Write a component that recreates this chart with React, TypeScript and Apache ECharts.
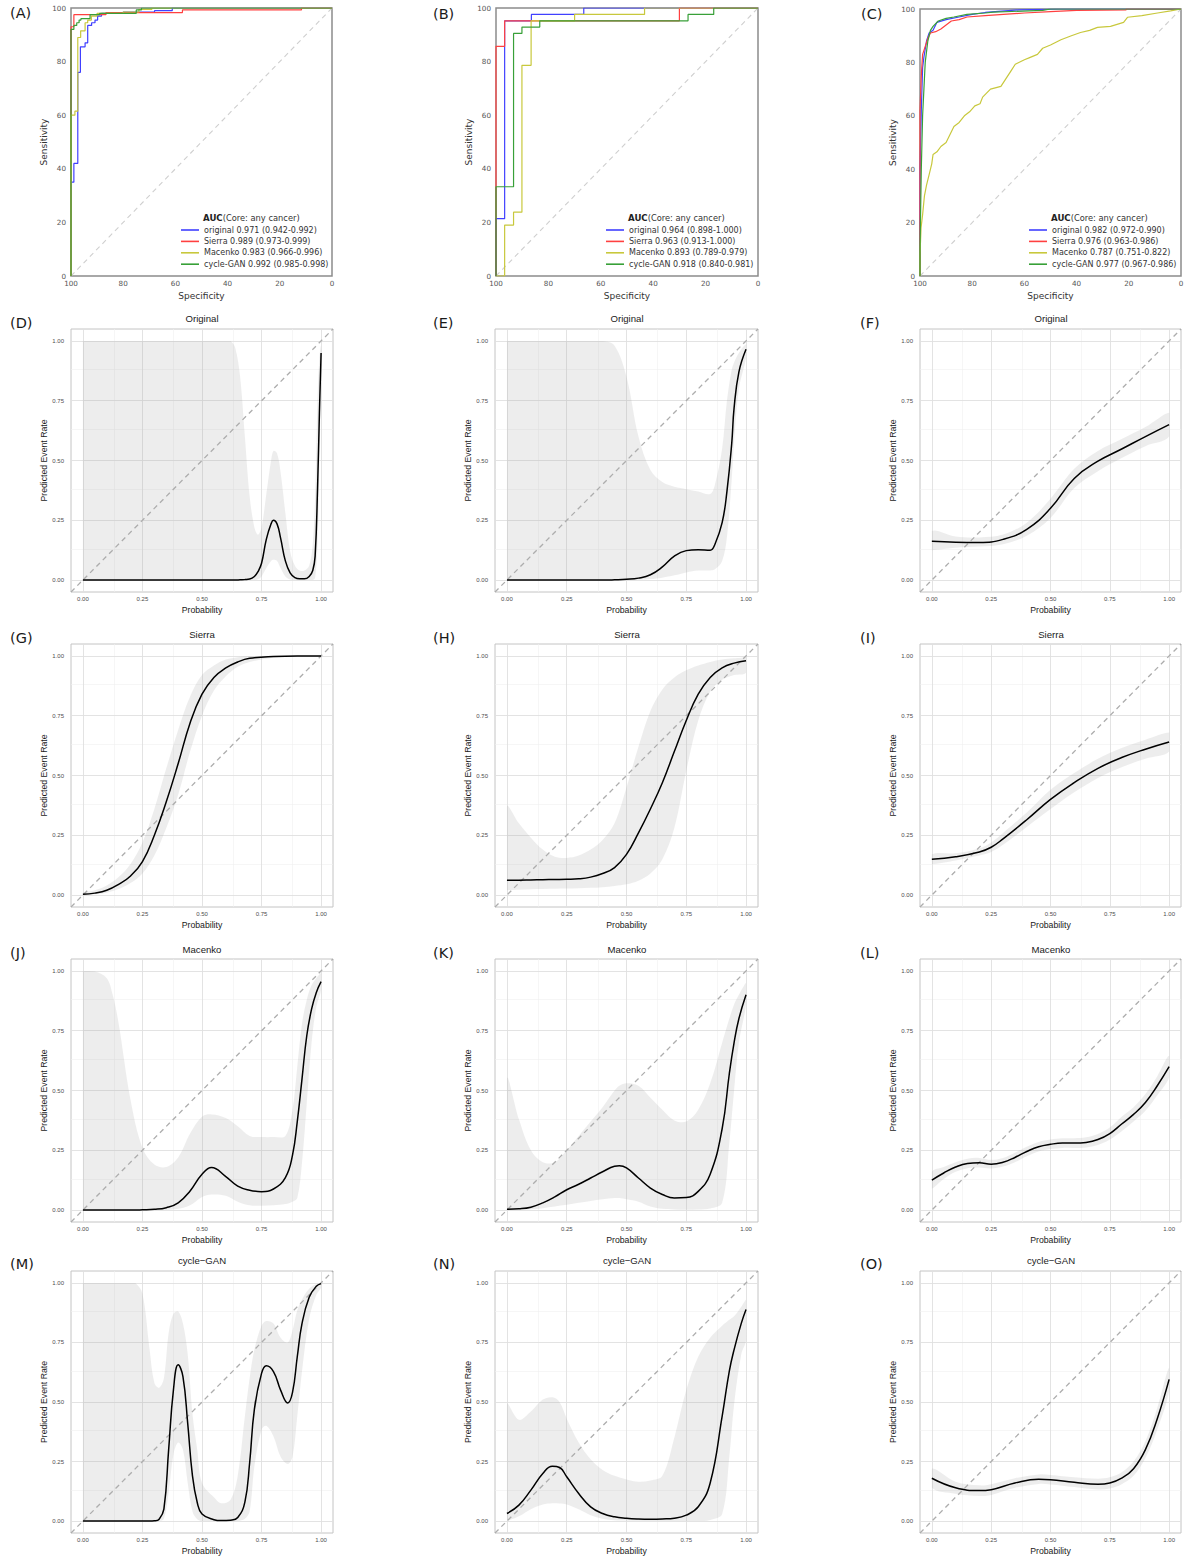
import React, { useEffect, useRef } from 'react';
import * as echarts from 'echarts';

// ---------------- ROC data (specificity %, sensitivity %) ----------------
const METHODS = ['original', 'Sierra', 'Macenko', 'cycle-GAN'];
const ROC_COLORS = ['#4040ff', '#ff4040', '#c8c83c', '#38a038'];

const aucA = ['0.971 (0.942-0.992)', '0.989 (0.973-0.999)', '0.983 (0.966-0.996)', '0.992 (0.985-0.998)'];
const aucB = ['0.964 (0.898-1.000)', '0.963 (0.913-1.000)', '0.893 (0.789-0.979)', '0.918 (0.840-0.981)'];
const aucC = ['0.982 (0.972-0.990)', '0.976 (0.963-0.986)', '0.787 (0.751-0.822)', '0.977 (0.967-0.986)'];

const rocAOriginal = [[100, 0], [100, 35], [98.9, 35], [98.9, 42], [97.4, 42], [97.4, 76], [96.4, 76], [96.4, 85.5], [94.6, 85.5], [94.6, 87], [93.6, 87], [93.6, 93.5], [92.1, 93.5], [92.1, 94.5], [90.8, 94.5], [90.8, 95.5], [89.8, 95.5], [89.8, 97], [88.3, 97], [88.3, 98], [80, 98], [80, 98.5], [68, 98.5], [68, 99], [61.2, 99], [61.2, 100], [0, 100]];
const rocASierra = [[100, 0], [100, 93], [98.9, 93], [98.9, 97.5], [86.6, 97.5], [86.6, 98.3], [57.3, 98.3], [57.3, 99.3], [11.7, 99.3], [11.7, 100], [0, 100]];
const rocAMacenko = [[100, 0], [100, 60], [98.5, 60], [98.5, 61.5], [97.4, 61.5], [97.4, 89], [96.3, 89], [96.3, 91.5], [94.6, 91.5], [94.6, 94.5], [93.6, 94.5], [93.6, 95.5], [92.2, 95.5], [92.2, 97], [90, 97], [90, 98], [80, 98], [80, 98.5], [74, 98.5], [74, 99.5], [69, 99.5], [69, 100], [0, 100]];
const rocACycleGAN = [[100, 0], [100, 92], [98.9, 92], [98.9, 93.5], [97.8, 93.5], [97.8, 94.5], [96.9, 94.5], [96.9, 95.5], [96.2, 95.5], [96.2, 96], [92.7, 96], [92.7, 97.5], [89, 97.5], [89, 98], [75, 98], [75, 99.3], [73, 99.3], [73, 100], [0, 100]];

const rocBOriginal = [[100, 0], [100, 21.4], [96.7, 21.4], [96.7, 95.2], [86.5, 95.2], [86.5, 97.6], [66.5, 97.6], [66.5, 100], [0, 100]];
const rocBSierra = [[100, 0], [100, 85.7], [96.7, 85.7], [96.7, 95.2], [30, 95.2], [30, 100], [0, 100]];
const rocBMacenko = [[100, 0], [96.7, 0], [96.7, 19], [93.3, 19], [93.3, 23.8], [90.1, 23.8], [90.1, 78.6], [86.6, 78.6], [86.6, 95.2], [70, 95.2], [70, 97.6], [43.3, 97.6], [43.3, 100], [0, 100]];
const rocBCycleGAN = [[100, 0], [100, 33.3], [93.3, 33.3], [93.3, 90.5], [90.1, 90.5], [90.1, 92.9], [83.3, 92.9], [83.3, 95.2], [26.7, 95.2], [26.7, 97.6], [16.9, 97.6], [16.9, 100], [0, 100]];

const rocCOriginal = [[100, 0], [100, 40], [99.5, 62], [99, 78], [98.5, 82], [97.5, 88], [96.5, 91], [95, 92], [93.5, 95], [90, 96], [85, 97], [80, 98], [75, 98.7], [62, 99.7], [47, 100], [0, 100]];
const rocCSierra = [[100, 0], [100, 62], [99.5, 75], [99, 83], [98, 86], [97, 89], [96, 91], [94, 91.5], [92, 92.5], [90, 94], [88, 95.5], [85, 96], [82, 97], [75, 97.5], [60, 98.5], [50, 99], [40, 99.5], [21, 99.7], [21, 100], [0, 100]];
const rocCMacenko = [[100, 0], [100, 8], [99.6, 18], [99, 23], [98.3, 30], [97.5, 34], [96.5, 38], [95.5, 42], [95, 45.5], [93.5, 46.5], [92, 48.5], [90, 50], [88.5, 53], [87, 56], [85, 57.5], [83, 60], [81, 61.5], [79, 63.7], [77, 64.5], [76, 67], [73, 70], [69, 71], [67, 74], [65, 77], [63.5, 79.3], [60, 81], [58, 81.8], [55, 83], [53, 85.3], [50, 86.5], [46, 88.5], [42, 90], [38.5, 91.2], [35, 92], [32, 93.1], [27, 93.5], [22, 95], [20.5, 96.9], [15, 97.5], [9, 98.5], [4, 99.3], [0, 100]];
const rocCCycleGAN = [[100, 0], [100, 10], [99.5, 40], [99, 60], [98.5, 70], [98, 80], [97, 88], [96, 92], [95, 93.5], [93, 95.5], [90, 96.5], [87, 97], [82, 98], [75, 98.5], [72, 98.8], [53, 99.5], [50, 100], [0, 100]];

// ---------------- Calibration data (probability, fit, lower CI, upper CI) ----------------
const dProb = [0, 0.2, 0.4, 0.6, 0.62, 0.64, 0.66, 0.68, 0.7, 0.72, 0.735, 0.75, 0.77, 0.79, 0.8, 0.815, 0.83, 0.85, 0.87, 0.89, 0.91, 0.93, 0.95, 0.965, 0.975, 0.985, 0.993, 1.0];
const dFit = [0, 0, 0, 0, 0, 0, 0.001, 0.002, 0.004, 0.015, 0.035, 0.07, 0.17, 0.235, 0.25, 0.235, 0.175, 0.08, 0.03, 0.01, 0.005, 0.005, 0.015, 0.04, 0.1, 0.38, 0.7, 0.95];
const dLo = [0, 0, 0, 0, 0, 0, 0, 0, 0, 0, 0.003, 0.015, 0.05, 0.08, 0.085, 0.08, 0.05, 0.015, 0.002, 0, 0, 0, 0, 0, 0.01, 0.15, 0.5, 0.88];
const dHi = [1, 1, 1, 1, 1, 0.97, 0.85, 0.6, 0.35, 0.22, 0.19, 0.22, 0.36, 0.5, 0.54, 0.53, 0.45, 0.28, 0.12, 0.06, 0.04, 0.04, 0.06, 0.15, 0.35, 0.75, 0.93, 0.98];

const eProb = [0, 0.2, 0.4, 0.45, 0.5, 0.55, 0.6, 0.65, 0.7, 0.75, 0.8, 0.85, 0.87, 0.9, 0.92, 0.94, 0.95, 0.97, 1.0];
const eFit = [0, 0, 0, 0.001, 0.003, 0.008, 0.022, 0.055, 0.1, 0.123, 0.127, 0.125, 0.15, 0.24, 0.37, 0.57, 0.72, 0.87, 0.965];
const eLo = [0, 0, 0, 0, 0, 0.001, 0.004, 0.01, 0.02, 0.032, 0.04, 0.04, 0.045, 0.08, 0.18, 0.42, 0.58, 0.8, 0.93];
const eHi = [1, 1, 1, 0.98, 0.85, 0.6, 0.46, 0.41, 0.39, 0.38, 0.37, 0.36, 0.4, 0.55, 0.75, 0.88, 0.91, 0.95, 0.985];

const fProb = [0, 0.1, 0.2, 0.3, 0.4, 0.5, 0.6, 0.7, 0.8, 0.9, 1.0];
const fFit = [0.162, 0.158, 0.157, 0.17, 0.212, 0.3, 0.425, 0.497, 0.548, 0.6, 0.65];
const fLo = [0.125, 0.135, 0.14, 0.15, 0.185, 0.26, 0.385, 0.455, 0.51, 0.56, 0.6];
const fHi = [0.205, 0.182, 0.178, 0.19, 0.24, 0.34, 0.465, 0.54, 0.59, 0.64, 0.7];

const gProb = [0, 0.05, 0.1, 0.15, 0.2, 0.25, 0.3, 0.35, 0.4, 0.45, 0.5, 0.55, 0.6, 0.65, 0.7, 0.8, 0.9, 1.0];
const gFit = [0.003, 0.008, 0.02, 0.045, 0.08, 0.14, 0.25, 0.39, 0.55, 0.72, 0.84, 0.91, 0.95, 0.975, 0.99, 0.998, 1.0, 1.0];
const gLo = [0, 0.003, 0.01, 0.025, 0.05, 0.09, 0.165, 0.28, 0.42, 0.6, 0.75, 0.855, 0.915, 0.955, 0.975, 0.993, 0.998, 0.999];
const gHi = [0.01, 0.02, 0.04, 0.075, 0.13, 0.22, 0.36, 0.53, 0.69, 0.83, 0.92, 0.96, 0.985, 0.995, 1.0, 1.0, 1.0, 1.0];

const hProb = [0, 0.05, 0.1, 0.15, 0.2, 0.25, 0.3, 0.35, 0.4, 0.45, 0.5, 0.55, 0.6, 0.65, 0.7, 0.75, 0.8, 0.85, 0.9, 0.95, 1.0];
const hFit = [0.062, 0.062, 0.063, 0.064, 0.065, 0.066, 0.068, 0.075, 0.09, 0.115, 0.17, 0.26, 0.36, 0.47, 0.6, 0.73, 0.84, 0.91, 0.95, 0.97, 0.98];
const hLo = [0.02, 0.022, 0.024, 0.025, 0.026, 0.027, 0.028, 0.03, 0.033, 0.038, 0.045, 0.06, 0.09, 0.15, 0.28, 0.52, 0.73, 0.85, 0.9, 0.92, 0.93];
const hHi = [0.37, 0.3, 0.24, 0.19, 0.16, 0.155, 0.165, 0.19, 0.23, 0.3, 0.45, 0.62, 0.77, 0.86, 0.91, 0.94, 0.96, 0.975, 0.985, 0.99, 0.995];

const iProb = [0, 0.1, 0.2, 0.25, 0.3, 0.4, 0.5, 0.6, 0.7, 0.8, 0.9, 1.0];
const iFit = [0.15, 0.16, 0.18, 0.2, 0.235, 0.315, 0.4, 0.47, 0.53, 0.575, 0.61, 0.64];
const iLo = [0.13, 0.145, 0.165, 0.18, 0.21, 0.285, 0.36, 0.43, 0.49, 0.535, 0.57, 0.6];
const iHi = [0.17, 0.175, 0.195, 0.22, 0.26, 0.345, 0.44, 0.51, 0.57, 0.615, 0.65, 0.68];

const jProb = [0, 0.05, 0.1, 0.125, 0.15, 0.2, 0.25, 0.3, 0.35, 0.4, 0.45, 0.5, 0.54, 0.6, 0.65, 0.7, 0.75, 0.8, 0.85, 0.88, 0.9, 0.92, 0.94, 0.96, 0.98, 1.0];
const jFit = [0, 0, 0, 0, 0, 0, 0.001, 0.003, 0.01, 0.03, 0.08, 0.15, 0.178, 0.14, 0.1, 0.083, 0.077, 0.088, 0.136, 0.23, 0.37, 0.55, 0.73, 0.84, 0.91, 0.955];
const jLo = [0, 0, 0, 0, 0, 0, 0, 0, 0, 0.005, 0.02, 0.055, 0.065, 0.06, 0.035, 0.02, 0.018, 0.02, 0.025, 0.035, 0.05, 0.2, 0.45, 0.7, 0.85, 0.92];
const jHi = [1, 0.998, 0.97, 0.9, 0.78, 0.46, 0.26, 0.19, 0.18, 0.22, 0.32, 0.39, 0.4, 0.385, 0.35, 0.31, 0.305, 0.305, 0.31, 0.42, 0.6, 0.78, 0.88, 0.94, 0.97, 0.99];

const kProb = [0, 0.05, 0.1, 0.15, 0.2, 0.25, 0.3, 0.35, 0.4, 0.45, 0.47, 0.5, 0.55, 0.6, 0.65, 0.7, 0.75, 0.8, 0.85, 0.9, 0.93, 0.95, 0.97, 1.0];
const kFit = [0.003, 0.005, 0.012, 0.03, 0.055, 0.085, 0.108, 0.134, 0.16, 0.183, 0.185, 0.176, 0.134, 0.092, 0.065, 0.05, 0.052, 0.078, 0.15, 0.34, 0.57, 0.7, 0.8, 0.9];
const kLo = [0, 0.001, 0.003, 0.008, 0.015, 0.022, 0.03, 0.038, 0.045, 0.05, 0.05, 0.045, 0.035, 0.015, 0.005, 0.002, 0.001, 0.002, 0.006, 0.03, 0.28, 0.5, 0.7, 0.86];
const kHi = [0.55, 0.38, 0.25, 0.2, 0.2, 0.25, 0.31, 0.37, 0.43, 0.5, 0.52, 0.53, 0.52, 0.47, 0.42, 0.375, 0.37, 0.42, 0.53, 0.7, 0.8, 0.86, 0.9, 0.95];

const lProb = [0, 0.05, 0.1, 0.15, 0.2, 0.25, 0.3, 0.35, 0.4, 0.45, 0.5, 0.55, 0.6, 0.65, 0.7, 0.75, 0.8, 0.85, 0.9, 0.95, 1.0];
const lFit = [0.125, 0.155, 0.18, 0.195, 0.198, 0.192, 0.2, 0.22, 0.245, 0.265, 0.275, 0.28, 0.28, 0.283, 0.295, 0.32, 0.36, 0.4, 0.45, 0.52, 0.6];
const lLo = [0.09, 0.13, 0.16, 0.175, 0.178, 0.174, 0.182, 0.2, 0.225, 0.245, 0.255, 0.26, 0.26, 0.262, 0.272, 0.295, 0.33, 0.37, 0.415, 0.48, 0.555];
const lHi = [0.16, 0.18, 0.2, 0.215, 0.218, 0.21, 0.218, 0.24, 0.265, 0.285, 0.295, 0.3, 0.3, 0.304, 0.318, 0.345, 0.39, 0.43, 0.485, 0.56, 0.645];

const mProb = [0, 0.1, 0.2, 0.22, 0.25, 0.28, 0.3, 0.32, 0.34, 0.36, 0.38, 0.4, 0.42, 0.44, 0.46, 0.48, 0.5, 0.55, 0.58, 0.62, 0.65, 0.68, 0.7, 0.72, 0.75, 0.77, 0.8, 0.83, 0.86, 0.88, 0.9, 0.92, 0.95, 0.98, 1.0];
const mFit = [0, 0, 0, 0, 0, 0, 0.001, 0.008, 0.05, 0.3, 0.55, 0.656, 0.607, 0.41, 0.19, 0.078, 0.03, 0.006, 0.002, 0.004, 0.015, 0.08, 0.245, 0.47, 0.62, 0.652, 0.628, 0.55, 0.496, 0.54, 0.69, 0.83, 0.94, 0.986, 0.997];
const mLo = [0, 0, 0, 0, 0, 0, 0, 0, 0.01, 0.12, 0.28, 0.33, 0.3, 0.16, 0.04, 0.008, 0, 0, 0, 0, 0, 0.01, 0.04, 0.23, 0.384, 0.4, 0.356, 0.27, 0.24, 0.27, 0.44, 0.63, 0.85, 0.95, 0.98];
const mHi = [1, 1, 1, 1, 0.955, 0.72, 0.58, 0.56, 0.6, 0.79, 0.87, 0.88, 0.83, 0.7, 0.45, 0.3, 0.16, 0.1, 0.075, 0.09, 0.19, 0.44, 0.6, 0.72, 0.82, 0.84, 0.83, 0.77, 0.75, 0.8, 0.885, 0.93, 0.975, 0.995, 1.0];

const nProb = [0, 0.05, 0.1, 0.15, 0.19, 0.22, 0.25, 0.3, 0.35, 0.4, 0.45, 0.5, 0.55, 0.6, 0.65, 0.7, 0.75, 0.8, 0.85, 0.9, 0.93, 0.95, 0.98, 1.0];
const nFit = [0.032, 0.067, 0.13, 0.2, 0.23, 0.225, 0.186, 0.116, 0.06, 0.032, 0.018, 0.012, 0.009, 0.008, 0.009, 0.012, 0.025, 0.06, 0.16, 0.44, 0.63, 0.72, 0.83, 0.888];
const nLo = [0, 0.02, 0.05, 0.07, 0.075, 0.074, 0.07, 0.05, 0.025, 0.01, 0.004, 0.002, 0.001, 0, 0, 0, 0, 0, 0.005, 0.03, 0.27, 0.49, 0.7, 0.76];
const nHi = [0.49, 0.425, 0.46, 0.51, 0.52, 0.5, 0.43, 0.33, 0.26, 0.215, 0.19, 0.175, 0.165, 0.17, 0.19, 0.35, 0.55, 0.69, 0.77, 0.82, 0.845, 0.86, 0.9, 0.93];

const oProb = [0, 0.1, 0.2, 0.25, 0.35, 0.45, 0.5, 0.6, 0.7, 0.75, 0.8, 0.85, 0.9, 0.95, 1.0];
const oFit = [0.18, 0.14, 0.128, 0.132, 0.16, 0.176, 0.174, 0.163, 0.155, 0.16, 0.18, 0.22, 0.3, 0.43, 0.595];
const oLo = [0.14, 0.115, 0.105, 0.11, 0.14, 0.156, 0.154, 0.143, 0.133, 0.137, 0.155, 0.19, 0.265, 0.385, 0.545];
const oHi = [0.22, 0.165, 0.15, 0.155, 0.18, 0.196, 0.194, 0.184, 0.178, 0.184, 0.205, 0.25, 0.335, 0.475, 0.645];

const CAL_TICKS = [0, 0.25, 0.5, 0.75, 1];
const CAL_MINOR = [0.125, 0.375, 0.625, 0.875];
const ROC_TICKS_INTERVAL = 20;

// ---------------- layout ----------------
const ROC_PANELS = [
  { letter: '(A)', lx: 10, ly: 13, left: 71, top: 8, width: 261, height: 268, legendLeft: 181, curves: [rocAOriginal, rocASierra, rocAMacenko, rocACycleGAN], auc: aucA },
  { letter: '(B)', lx: 433, ly: 14, left: 496, top: 8, width: 262, height: 268, legendLeft: 606, curves: [rocBOriginal, rocBSierra, rocBMacenko, rocBCycleGAN], auc: aucB },
  { letter: '(C)', lx: 861, ly: 14, left: 920, top: 9, width: 261, height: 267, legendLeft: 1029, curves: [rocCOriginal, rocCSierra, rocCMacenko, rocCCycleGAN], auc: aucC },
];

const COLS = [
  { left: 71, width: 262, cx: 202, lx: 10 },
  { left: 495, width: 263, cx: 627, lx: 433 },
  { left: 920, width: 261, cx: 1051, lx: 860 },
];
const ROWS = [
  { top: 329, height: 263, titleY: 318, ly: 323 },
  { top: 644, height: 263, titleY: 634, ly: 638 },
  { top: 959, height: 263, titleY: 949, ly: 953 },
  { top: 1271, height: 262, titleY: 1260, ly: 1264 },
];

const CAL_PANELS = [
  { letter: '(D)', title: 'Original', row: 0, col: 0, prob: dProb, fit: dFit, lo: dLo, hi: dHi },
  { letter: '(E)', title: 'Original', row: 0, col: 1, prob: eProb, fit: eFit, lo: eLo, hi: eHi },
  { letter: '(F)', title: 'Original', row: 0, col: 2, prob: fProb, fit: fFit, lo: fLo, hi: fHi },
  { letter: '(G)', title: 'Sierra', row: 1, col: 0, prob: gProb, fit: gFit, lo: gLo, hi: gHi },
  { letter: '(H)', title: 'Sierra', row: 1, col: 1, prob: hProb, fit: hFit, lo: hLo, hi: hHi },
  { letter: '(I)', title: 'Sierra', row: 1, col: 2, prob: iProb, fit: iFit, lo: iLo, hi: iHi },
  { letter: '(J)', title: 'Macenko', row: 2, col: 0, prob: jProb, fit: jFit, lo: jLo, hi: jHi },
  { letter: '(K)', title: 'Macenko', row: 2, col: 1, prob: kProb, fit: kFit, lo: kLo, hi: kHi },
  { letter: '(L)', title: 'Macenko', row: 2, col: 2, prob: lProb, fit: lFit, lo: lLo, hi: lHi },
  { letter: '(M)', title: 'cycle\u2212GAN', row: 3, col: 0, prob: mProb, fit: mFit, lo: mLo, hi: mHi },
  { letter: '(N)', title: 'cycle\u2212GAN', row: 3, col: 1, prob: nProb, fit: nFit, lo: nLo, hi: nHi },
  { letter: '(O)', title: 'cycle\u2212GAN', row: 3, col: 2, prob: oProb, fit: oFit, lo: oLo, hi: oHi },
];

const ROC_FONT = 'DejaVu Sans';
const CAL_FONT = 'Liberation Sans';

function letterText(text: string, x: number, y: number) {
  return {
    type: 'text', x, y, silent: true,
    style: { text, fontSize: 14.5, fontFamily: 'DejaVu Sans', fill: '#1a1a1a', textAlign: 'left', textVerticalAlign: 'middle', align: 'left', verticalAlign: 'middle' },
  };
}

// Band polygon drawn once per panel from the data through the axis scales.
function bandRenderItem(params: any, api: any) {
  if (params.dataIndex !== 0) return null;
  const n = params.dataInsideLength;
  const upper: number[][] = [];
  const lower: number[][] = [];
  for (let i = 0; i < n; i++) {
    const x = api.value(0, i);
    upper.push(api.coord([x, api.value(2, i)]));
    lower.push(api.coord([x, api.value(1, i)]));
  }
  const pts = upper.concat(lower.reverse());
  let x0 = Infinity, y0 = Infinity, x1 = -Infinity, y1 = -Infinity;
  pts.forEach((p) => { x0 = Math.min(x0, p[0]); x1 = Math.max(x1, p[0]); y0 = Math.min(y0, p[1]); y1 = Math.max(y1, p[1]); });
  return {
    type: 'polygon',
    shape: { points: pts, smooth: 0.35, smoothConstraint: [[x0, y0], [x1, y1]] },
    style: { fill: 'rgba(153,153,153,0.18)', stroke: 'none' },
    silent: true,
  };
}

function buildOption() {
  const grid: any[] = [];
  const xAxis: any[] = [];
  const yAxis: any[] = [];
  const series: any[] = [];
  const legend: any[] = [];
  const graphic: any[] = [];

  ROC_PANELS.forEach((p, gi) => {
    grid.push({ left: p.left, top: p.top, width: p.width, height: p.height, show: true, borderColor: '#8c8c8c', borderWidth: 1.5, backgroundColor: 'transparent', containLabel: false, outerBoundsMode: 'none' });
    xAxis.push({
      type: 'value', gridIndex: gi, min: 0, max: 100, interval: ROC_TICKS_INTERVAL, inverse: true,
      name: 'Specificity', nameLocation: 'middle', nameGap: 15,
      nameTextStyle: { fontSize: 9, fontFamily: ROC_FONT, color: '#333' },
      axisLine: { show: false }, axisTick: { show: false }, splitLine: { show: false },
      axisLabel: { fontSize: 7.2, fontFamily: ROC_FONT, color: '#555', margin: 4 },
    });
    yAxis.push({
      type: 'value', gridIndex: gi, min: 0, max: 100, interval: ROC_TICKS_INTERVAL,
      name: 'Sensitivity', nameLocation: 'middle', nameGap: 23,
      nameTextStyle: { fontSize: 9, fontFamily: ROC_FONT, color: '#333' },
      axisLine: { show: false }, axisTick: { show: false }, splitLine: { show: false },
      axisLabel: { fontSize: 7.2, fontFamily: ROC_FONT, color: '#555', margin: 5 },
    });
    series.push({
      type: 'line', xAxisIndex: gi, yAxisIndex: gi, data: [[100, 0], [0, 100]], symbol: 'none', silent: true, z: 1,
      lineStyle: { color: '#cfcfcf', width: 1.1, type: [5, 4] },
    });
    const names: string[] = [];
    p.curves.forEach((c, ci) => {
      const name = `${METHODS[ci]} ${p.auc[ci]}`;
      names.push(name);
      series.push({
        name, type: 'line', xAxisIndex: gi, yAxisIndex: gi, data: c, symbol: 'none', silent: true, z: 2 + ci,
        color: ROC_COLORS[ci], lineStyle: { color: ROC_COLORS[ci], width: 1.2 },
      });
    });
    legend.push({
      data: names, left: p.legendLeft, top: 225, orient: 'vertical', padding: 0, itemGap: 1.4,
      itemWidth: 18, itemHeight: 1.6, icon: 'rect', selectedMode: false,
      textStyle: { fontSize: 8, fontFamily: ROC_FONT, color: '#333', lineHeight: 10 },
    });
    graphic.push({
      type: 'text', x: p.legendLeft + 22, y: 218, silent: true,
      style: {
        text: '{b|AUC}{n|(Core: any cancer)}', fill: '#333', textVerticalAlign: 'middle', verticalAlign: 'middle',
        rich: {
          b: { fontSize: 8.6, fontFamily: ROC_FONT, fontWeight: 'bold', fill: '#222', color: '#222' },
          n: { fontSize: 8.3, fontFamily: ROC_FONT, fill: '#333', color: '#333' },
        },
      },
    });
    graphic.push(letterText(p.letter, p.lx, p.ly));
  });

  CAL_PANELS.forEach((p, k) => {
    const gi = ROC_PANELS.length + k;
    const col = COLS[p.col];
    const row = ROWS[p.row];
    grid.push({ left: col.left, top: row.top, width: col.width, height: row.height, show: true, borderColor: '#c4c4c4', borderWidth: 1, backgroundColor: 'transparent', containLabel: false, outerBoundsMode: 'none' });
    xAxis.push({
      type: 'value', gridIndex: gi, min: -0.05, max: 1.05,
      name: 'Probability', nameLocation: 'middle', nameGap: 13,
      nameTextStyle: { fontSize: 8.7, fontFamily: CAL_FONT, color: '#1a1a1a' },
      axisLine: { show: false }, axisTick: { show: false, customValues: CAL_TICKS }, splitLine: { show: false },
      axisLabel: { customValues: CAL_TICKS, formatter: (v: number) => v.toFixed(2), fontSize: 6, fontFamily: CAL_FONT, color: '#4d4d4d', margin: 4 },
    });
    yAxis.push({
      type: 'value', gridIndex: gi, min: -0.05, max: 1.05,
      name: 'Predicted Event Rate', nameLocation: 'middle', nameGap: 23,
      nameTextStyle: { fontSize: 8.7, fontFamily: CAL_FONT, color: '#1a1a1a' },
      axisLine: { show: false }, axisTick: { show: false, customValues: CAL_TICKS }, splitLine: { show: false },
      axisLabel: { customValues: CAL_TICKS, formatter: (v: number) => v.toFixed(2), fontSize: 6, fontFamily: CAL_FONT, color: '#4d4d4d', margin: 7 },
    });
    const major = { color: '#e0e0e0', width: 0.9, type: 'solid' };
    const minor = { color: '#f0f0f0', width: 0.6, type: 'solid' };
    const mlData: any[] = [];
    CAL_MINOR.forEach((v) => { mlData.push({ xAxis: v, lineStyle: minor }); mlData.push({ yAxis: v, lineStyle: minor }); });
    CAL_TICKS.forEach((v) => { mlData.push({ xAxis: v, lineStyle: major }); mlData.push({ yAxis: v, lineStyle: major }); });
    series.push({
      type: 'line', xAxisIndex: gi, yAxisIndex: gi, data: [[-0.05, -0.05], [1.05, 1.05]], symbol: 'none', silent: true, z: 1,
      lineStyle: { opacity: 0 },
      markLine: { silent: true, symbol: ['none', 'none'], label: { show: false }, animation: false, z: 1, data: mlData },
    });
    series.push({
      type: 'custom', xAxisIndex: gi, yAxisIndex: gi, coordinateSystem: 'cartesian2d', silent: true, z: 2,
      data: p.prob.map((x, i) => [x, p.lo[i], p.hi[i]]),
      encode: { x: 0, y: [1, 2] },
      renderItem: bandRenderItem,
    });
    series.push({
      type: 'line', xAxisIndex: gi, yAxisIndex: gi, data: [[-0.05, -0.05], [1.05, 1.05]], symbol: 'none', silent: true, z: 3,
      lineStyle: { color: '#adadad', width: 1.3, type: [5, 4] },
    });
    series.push({
      type: 'line', xAxisIndex: gi, yAxisIndex: gi, symbol: 'none', silent: true, z: 4,
      smooth: 0.45,
      data: p.prob.map((x, i) => [x, p.fit[i]]),
      lineStyle: { color: '#000', width: 1.5 },
    });
    graphic.push({
      type: 'text', x: col.cx, y: row.titleY, silent: true,
      style: { text: p.title, fontSize: 9.6, fontFamily: CAL_FONT, fill: '#1a1a1a', textAlign: 'center', textVerticalAlign: 'middle', align: 'center', verticalAlign: 'middle' },
    });
    graphic.push(letterText(p.letter, col.lx, row.ly));
  });

  return { animation: false, backgroundColor: '#fff', grid, xAxis, yAxis, series, legend, graphic };
}

export default function App() {
  const ref = useRef<HTMLDivElement>(null);
  useEffect(() => {
    if (!ref.current) return;
    const chart = echarts.init(ref.current, null, { renderer: 'svg', width: 1185, height: 1564 });
    chart.setOption(buildOption() as any);
    return () => chart.dispose();
  }, []);
  return (
    <div
      ref={ref}
      style={{ position: 'absolute', left: 0, top: 0, width: 1185, height: 1564, background: '#fff' }}
    />
  );
}
